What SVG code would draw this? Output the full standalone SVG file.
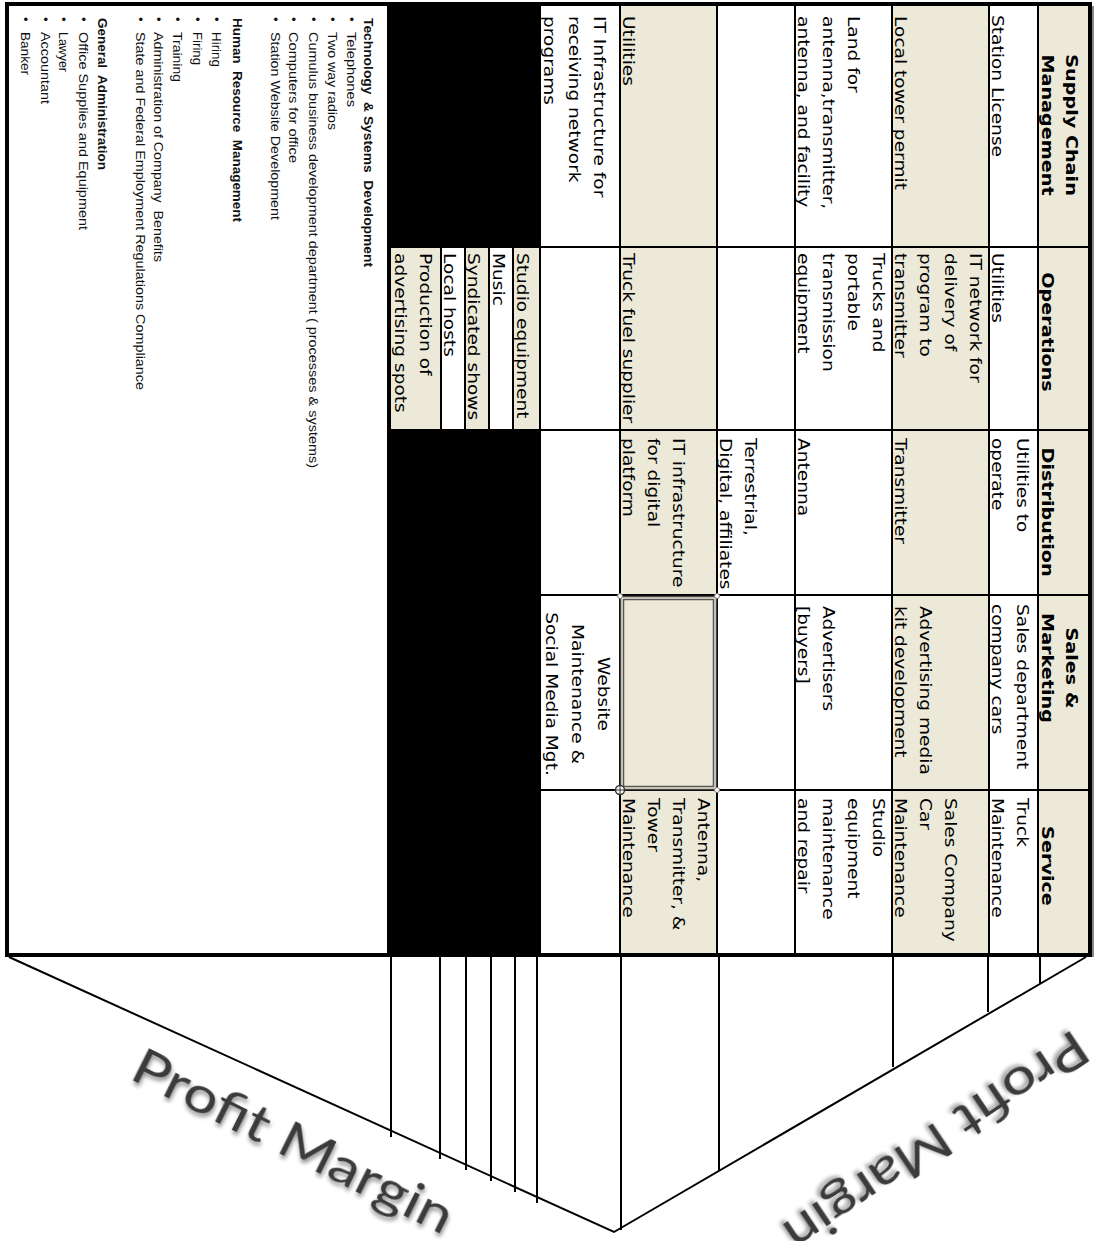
<svg xmlns="http://www.w3.org/2000/svg" width="1094" height="1241" viewBox="0 0 1094 1241">
<style>
.c{font-family:"DejaVu Sans","Liberation Sans",sans-serif;font-size:15px;fill:#000}
.h{font-family:"DejaVu Sans","Liberation Sans",sans-serif;font-size:16px;font-weight:bold;fill:#000;text-anchor:middle}
.m{text-anchor:middle}
.s{font-family:"Liberation Sans",Arial,sans-serif;font-size:12.5px;fill:#111}
.sb{font-weight:bold}
.shade{fill:#ECE9D8}
.blk{fill:#000}
.g{stroke:#000;stroke-width:2;fill:none}
.fr{stroke:#000;stroke-width:4;fill:none}
.cn{stroke:#000;stroke-width:2;fill:none}
.pm{font-family:Lato,"Open Sans","Liberation Sans",sans-serif;font-size:50px;fill:#3a3a3a}
</style>
<defs>
<filter id="sh" x="-10%" y="-30%" width="130%" height="170%">
<feGaussianBlur in="SourceAlpha" stdDeviation="2"/>
<feOffset dx="2" dy="3" result="o"/>
<feComponentTransfer><feFuncA type="linear" slope="0.45"/></feComponentTransfer>
<feMerge><feMergeNode/><feMergeNode in="SourceGraphic"/></feMerge>
</filter>
</defs>
<rect width="1094" height="1241" fill="#fff"/>

<g id="fills">
<rect class="shade" x="1038" y="5" width="52" height="950"/>
<rect class="shade" x="892" y="5" width="97" height="950"/>
<rect class="shade" x="620" y="5" width="97" height="950"/>
<rect class="blk" x="387" y="5" width="153" height="242"/>
<rect class="blk" x="387" y="430" width="153" height="525"/>
<rect class="shade" x="390" y="247" width="51" height="183"/>
<rect class="shade" x="465" y="247" width="24" height="183"/>
<rect class="shade" x="513" y="247" width="27" height="183"/>
<rect x="441" y="247" width="24" height="183" fill="#fff"/>
<rect x="489" y="247" width="24" height="183" fill="#fff"/>
</g>

<g id="grid">
<path class="g" d="M540 5V955M620 5V955M717 5V955M795 5V955M892 5V955M989 5V955M1038 5V955M388 5V955"/>
<path class="g" d="M388 247H1090M388 430H1090M540 595H1090M540 790H1090"/>
<path class="g" d="M390 247V430M441 247V430M465 247V430M489 247V430M513 247V430"/>
<rect class="fr" x="7" y="4" width="1083" height="951"/>
<line x1="1093" y1="6" x2="1093" y2="957" stroke="#888" stroke-width="2"/>
</g>

<g id="selection">
<rect x="620.5" y="596.5" width="96" height="193" fill="none" stroke="#444" stroke-width="1.5"/>
<rect x="623.5" y="599.5" width="90" height="187" fill="none" stroke="#555" stroke-width="1.5"/>
<circle cx="620" cy="596" r="2.5" fill="#fff" stroke="#777"/>
<circle cx="717" cy="596" r="2.5" fill="#fff" stroke="#777"/>
<circle cx="717" cy="790" r="2.5" fill="#fff" stroke="#777"/>
<circle cx="620" cy="790" r="4.5" fill="#fff" stroke="#333" stroke-width="1.5"/>
<path d="M614 790H626M620 784V796" stroke="#333" stroke-width="1"/>
</g>

<g id="headers">
<g id="h-supply" transform="translate(1066,125) rotate(90) scale(1.2,1)"><text class="h"><tspan x="0" y="0">Supply Chain</tspan><tspan x="0" y="24">Management</tspan></text></g>
<g id="h-operations" transform="translate(1042,332) rotate(90) scale(1.2,1)"><text class="h">Operations</text></g>
<g id="h-distribution" transform="translate(1042,512) rotate(90) scale(1.2,1)"><text class="h">Distribution</text></g>
<g id="h-sales" transform="translate(1066,668) rotate(90) scale(1.2,1)"><text class="h"><tspan x="0" y="0">Sales &amp;</tspan><tspan x="0" y="24">Marketing</tspan></text></g>
<g id="h-service" transform="translate(1042,866) rotate(90) scale(1.2,1)"><text class="h">Service</text></g>
</g>

<g id="supply-chain">
<g id="sc-1" transform="translate(992,15) rotate(90) scale(1.24,1)"><text class="c">Station License</text></g>
<g id="sc-2" transform="translate(895,16) rotate(90) scale(1.24,1)"><text class="c">Local tower permit</text></g>
<g id="sc-3" transform="translate(848,16) rotate(90) scale(1.24,1)"><text class="c"><tspan x="0" y="0">Land for</tspan><tspan x="0" y="25">antenna,transmitter,</tspan><tspan x="0" y="50">antenna, and facility</tspan></text></g>
<g id="sc-5" transform="translate(623,16) rotate(90) scale(1.24,1)"><text class="c">Utilities</text></g>
<g id="sc-6" transform="translate(594,16) rotate(90) scale(1.24,1)"><text class="c"><tspan x="0" y="0">IT Infrastructure for</tspan><tspan x="0" y="25">receiving network</tspan><tspan x="0" y="50">programs</tspan></text></g>
</g>

<g id="operations">
<g id="op-1" transform="translate(992,253) rotate(90) scale(1.24,1)"><text class="c">Utilities</text></g>
<g id="op-2" transform="translate(970,253) rotate(90) scale(1.24,1)"><text class="c"><tspan x="0" y="0">IT network for</tspan><tspan x="0" y="25">delivery of</tspan><tspan x="0" y="50">program to</tspan><tspan x="0" y="75">transmitter</tspan></text></g>
<g id="op-3" transform="translate(873,253) rotate(90) scale(1.24,1)"><text class="c"><tspan x="0" y="0">Trucks and</tspan><tspan x="0" y="25">portable</tspan><tspan x="0" y="50">transmission</tspan><tspan x="0" y="75">equipment</tspan></text></g>
<g id="op-5" transform="translate(623,253) rotate(90) scale(1.24,1)"><text class="c">Truck fuel supplier</text></g>
<g id="op-studio" transform="translate(517,253) rotate(90) scale(1.24,1)"><text class="c">Studio equipment</text></g>
<g id="op-music" transform="translate(493,253) rotate(90) scale(1.24,1)"><text class="c">Music</text></g>
<g id="op-synd" transform="translate(468,253) rotate(90) scale(1.24,1)"><text class="c">Syndicated shows</text></g>
<g id="op-hosts" transform="translate(444,253) rotate(90) scale(1.24,1)"><text class="c">Local hosts</text></g>
<g id="op-prod" transform="translate(420,253) rotate(90) scale(1.24,1)"><text class="c"><tspan x="0" y="0">Production of</tspan><tspan x="0" y="25">advertising spots</tspan></text></g>
</g>

<g id="distribution">
<g id="di-1" transform="translate(1017,438) rotate(90) scale(1.24,1)"><text class="c"><tspan x="0" y="0">Utilities to</tspan><tspan x="0" y="25">operate</tspan></text></g>
<g id="di-2" transform="translate(895,438) rotate(90) scale(1.24,1)"><text class="c">Transmitter</text></g>
<g id="di-3" transform="translate(798,438) rotate(90) scale(1.24,1)"><text class="c">Antenna</text></g>
<g id="di-4" transform="translate(745,438) rotate(90) scale(1.24,1)"><text class="c"><tspan x="0" y="0">Terrestrial,</tspan><tspan x="0" y="25">Digital, affiliates</tspan></text></g>
<g id="di-5" transform="translate(673,438) rotate(90) scale(1.24,1)"><text class="c"><tspan x="0" y="0">IT infrastructure</tspan><tspan x="0" y="25">for digital</tspan><tspan x="0" y="50">platform</tspan></text></g>
</g>

<g id="sales-marketing">
<g id="sm-1" transform="translate(1017,604) rotate(90) scale(1.24,1)"><text class="c"><tspan x="0" y="0">Sales department</tspan><tspan x="0" y="25">company cars</tspan></text></g>
<g id="sm-2" transform="translate(920,606) rotate(90) scale(1.24,1)"><text class="c"><tspan x="0" y="0">Advertising media</tspan><tspan x="0" y="25">kit development</tspan></text></g>
<g id="sm-3" transform="translate(823,606) rotate(90) scale(1.24,1)"><text class="c"><tspan x="0" y="0">Advertisers</tspan><tspan x="0" y="25">[buyers]</tspan></text></g>
<g id="sm-6" transform="translate(598,694) rotate(90) scale(1.24,1)"><text class="c m"><tspan x="0" y="0">Website</tspan><tspan x="0" y="26">Maintenance &amp;</tspan><tspan x="0" y="52">Social Media Mgt.</tspan></text></g>
</g>

<g id="service">
<g id="sv-1" transform="translate(1017,798) rotate(90) scale(1.24,1)"><text class="c"><tspan x="0" y="0">Truck</tspan><tspan x="0" y="25">Maintenance</tspan></text></g>
<g id="sv-2" transform="translate(945,798) rotate(90) scale(1.24,1)"><text class="c"><tspan x="0" y="0">Sales Company</tspan><tspan x="0" y="25">Car</tspan><tspan x="0" y="50">Maintenance</tspan></text></g>
<g id="sv-3" transform="translate(873,798) rotate(90) scale(1.24,1)"><text class="c"><tspan x="0" y="0">Studio</tspan><tspan x="0" y="25">equipment</tspan><tspan x="0" y="50">maintenance</tspan><tspan x="0" y="75">and repair</tspan></text></g>
<g id="sv-5" transform="translate(698,798) rotate(90) scale(1.24,1)"><text class="c"><tspan x="0" y="0">Antenna,</tspan><tspan x="0" y="25">Transmitter, &amp;</tspan><tspan x="0" y="50">Tower</tspan><tspan x="0" y="75">Maintenance</tspan></text></g>
</g>

<g id="support">
<text class="s sb" xml:space="preserve" transform="translate(364,18) rotate(90)" textLength="249" lengthAdjust="spacingAndGlyphs">Technology  &amp; Systems  Development</text>
<text class="s" transform="translate(347,17) rotate(90)">•</text><text class="s" transform="translate(347,32) rotate(90)" textLength="75" lengthAdjust="spacingAndGlyphs">Telephones</text>
<text class="s" transform="translate(328,17) rotate(90)">•</text><text class="s" transform="translate(328,32) rotate(90)" textLength="98" lengthAdjust="spacingAndGlyphs">Two way radios</text>
<text class="s" transform="translate(309,17) rotate(90)">•</text><text class="s" transform="translate(309,32) rotate(90)" textLength="436" lengthAdjust="spacingAndGlyphs">Cumulus business development department ( processes &amp; systems)</text>
<text class="s" transform="translate(289,17) rotate(90)">•</text><text class="s" transform="translate(289,32) rotate(90)" textLength="131" lengthAdjust="spacingAndGlyphs">Computers for office</text>
<text class="s" transform="translate(271,17) rotate(90)">•</text><text class="s" transform="translate(271,32) rotate(90)" textLength="188" lengthAdjust="spacingAndGlyphs">Station Website Development</text>
<text class="s sb" xml:space="preserve" transform="translate(233,18) rotate(90)" textLength="204" lengthAdjust="spacingAndGlyphs">Human  Resource  Management</text>
<text class="s" transform="translate(212,17) rotate(90)">•</text><text class="s" transform="translate(212,32) rotate(90)" textLength="35" lengthAdjust="spacingAndGlyphs">Hiring</text>
<text class="s" transform="translate(193,17) rotate(90)">•</text><text class="s" transform="translate(193,32) rotate(90)" textLength="33" lengthAdjust="spacingAndGlyphs">Firing</text>
<text class="s" transform="translate(173,17) rotate(90)">•</text><text class="s" transform="translate(173,32) rotate(90)" textLength="50" lengthAdjust="spacingAndGlyphs">Training</text>
<text class="s" transform="translate(154,17) rotate(90)">•</text><text class="s" xml:space="preserve" transform="translate(154,32) rotate(90)" textLength="230" lengthAdjust="spacingAndGlyphs">Administration of Company  Benefits</text>
<text class="s" transform="translate(136,17) rotate(90)">•</text><text class="s" transform="translate(136,32) rotate(90)" textLength="358" lengthAdjust="spacingAndGlyphs">State and Federal Employment Regulations Compliance</text>
<text class="s sb" xml:space="preserve" transform="translate(98,18) rotate(90)" textLength="152" lengthAdjust="spacingAndGlyphs">General  Administration</text>
<text class="s" transform="translate(79,17) rotate(90)">•</text><text class="s" transform="translate(79,32) rotate(90)" textLength="198" lengthAdjust="spacingAndGlyphs">Office Supplies and Equipment</text>
<text class="s" transform="translate(59,17) rotate(90)">•</text><text class="s" transform="translate(59,32) rotate(90)" textLength="40" lengthAdjust="spacingAndGlyphs">Lawyer</text>
<text class="s" transform="translate(41,17) rotate(90)">•</text><text class="s" transform="translate(41,32) rotate(90)" textLength="72" lengthAdjust="spacingAndGlyphs">Accountant</text>
<text class="s" transform="translate(21,17) rotate(90)">•</text><text class="s" transform="translate(21,32) rotate(90)" textLength="43" lengthAdjust="spacingAndGlyphs">Banker</text>
</g>

<g id="connectors">
<path class="cn" d="M9 957L614 1232L1086 957"/>
<path class="cn" d="M391 957V1137M440 957V1159M466 957V1170M491 957V1181M515 957V1192M537 957V1203M621 957V1230M719 957V1170M893 957V1067M988 957V1012M1040 957V983"/>
</g>

<g id="profit-margin">
<text class="pm" filter="url(#sh)" transform="translate(128,1078) rotate(26.5)" textLength="352" lengthAdjust="spacingAndGlyphs">Profit Margin</text>
<text class="pm" filter="url(#sh)" transform="translate(1074,1028) rotate(146)" textLength="355" lengthAdjust="spacingAndGlyphs">Profit Margin</text>
</g>
</svg>
